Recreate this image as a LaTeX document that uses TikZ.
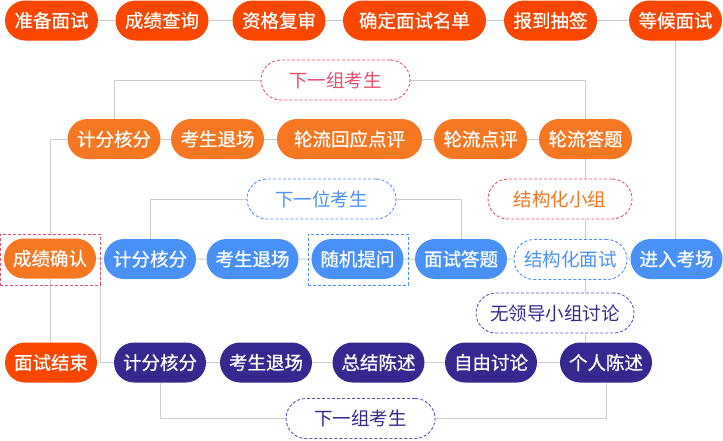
\documentclass[tikz,border=0pt]{standalone}
\usepackage{fontspec}
\setmainfont{Noto Sans CJK SC}
\newfontfamily\cuti[FakeBold=0.7]{Noto Sans CJK SC}
\usetikzlibrary{backgrounds,calc}
\definecolor{hongse}{HTML}{F94600}
\definecolor{chengse}{HTML}{F57722}
\definecolor{lanse}{HTML}{4A91F7}
\definecolor{zise}{HTML}{35288F}
\definecolor{xianse}{HTML}{CCCCCC}
\definecolor{xuhong}{HTML}{E8506A}
\definecolor{xuzi}{HTML}{5A4FB5}

\begin{document}
\begin{tikzpicture}[x=1pt,y=-1pt,
  every node/.style={font=\fontsize{18.5pt}{22pt}\selectfont},
  jiedian/.style={rounded corners=20pt,minimum height=40pt,minimum width=93pt,inner sep=0pt,text=white,font=\cuti\fontsize{18.5pt}{22pt}\selectfont},
  hongjie/.style={jiedian,fill=hongse},
  chengjie/.style={jiedian,fill=chengse},
  lanjie/.style={jiedian,fill=lanse},
  zijie/.style={jiedian,fill=zise},
  xukuang/.style={draw,dash pattern=on 3pt off 2pt,line width=0.9pt,fill=white,rounded corners=20pt,minimum height=40pt,inner sep=0pt},
  lianxian/.style={draw=xianse,line width=1pt}]
  \useasboundingbox (0,0) rectangle (723,440);
  % 第一行：面试准备
  \node[hongjie] (prep) at (51.5,20.5) {准备面试};
  \node[hongjie] (query) at (162,20.5) {成绩查询};
  \node[hongjie] (review) at (279,20.5) {资格复审};
  \node[hongjie,minimum width=143pt] (namelist) at (414.5,20.5) {确定面试名单};
  \node[hongjie] (lottery) at (550.5,20.5) {报到抽签};
  \node[hongjie] (wait) at (675.5,20.5) {等候面试};
  % 第二行：结构化小组
  \node[xukuang,draw=xuhong,text=xuhong,minimum width=149pt] (gNext) at (335.5,80) {下一组考生};
  \node[chengjie] (gScore) at (114,139) {计分核分};
  \node[chengjie] (gLeave) at (217.5,139) {考生退场};
  \node[chengjie,minimum width=145pt] (gReply) at (349.5,139) {轮流回应点评};
  \node[chengjie] (gComment) at (480.5,139) {轮流点评};
  \node[chengjie] (gAnswer) at (585.5,139) {轮流答题};
  \node[xukuang,draw=xuhong,text=chengse,minimum width=144pt] (group) at (560,199) {结构化小组};
  % 第三行：结构化面试
  \node[xukuang,draw=lanse,text=lanse,minimum width=149pt] (sNext) at (321.5,199) {下一位考生};
  \node[chengjie,minimum width=92pt] (confirm) at (50,258.5) {成绩确认};
  \node[draw=xuhong,dash pattern=on 3pt off 2pt,line width=0.9pt,minimum width=100pt,minimum height=51pt] (confirmBox) at (50,259.5) {};
  \node[lanjie,minimum width=92pt] (sScore) at (150,259) {计分核分};
  \node[lanjie,minimum width=92pt] (sLeave) at (252.5,259) {考生退场};
  \node[lanjie,minimum width=92pt] (sAsk) at (357.5,259) {随机提问};
  \node[draw=lanse,dash pattern=on 3pt off 2pt,line width=0.9pt,minimum width=100pt,minimum height=51pt] (askBox) at (358,259.5) {};
  \node[lanjie,minimum width=92pt] (sAnswer) at (461,259) {面试答题};
  \node[xukuang,draw=lanse,text=lanse,minimum width=113pt] (structured) at (570.5,259.5) {结构化面试};
  \node[lanjie,minimum width=92pt] (enter) at (676.5,259) {进入考场};
  % 第四行：无领导小组讨论
  \node[xukuang,draw=xuzi,text=zise,minimum width=158pt] (leaderless) at (555,313) {无领导小组讨论};
  \node[hongjie,minimum width=92pt] (finish) at (51,362.5) {面试结束};
  \node[zijie,minimum width=92pt] (lScore) at (160,362.5) {计分核分};
  \node[zijie,minimum width=92pt] (lLeave) at (266,362.5) {考生退场};
  \node[zijie,minimum width=92pt] (lSum) at (378.5,362.5) {总结陈述};
  \node[zijie,minimum width=92pt] (lFree) at (491,362.5) {自由讨论};
  \node[zijie,minimum width=92pt] (lSelf) at (606,362.5) {个人陈述};
  \node[xukuang,draw=xuzi,text=zise,minimum width=149pt] (lNext) at (360.5,418.5) {下一组考生};
  % 连线（放在背景层）
  \begin{scope}[on background layer]
    \draw[lianxian] (prep) -- (query) -- (review) -- (namelist) -- (lottery) -- (wait); % 第一行
    \draw[lianxian] (wait.south) -- (wait.south |- enter.north); % 等候面试→进入考场
    \draw[lianxian] (gScore) -- (gLeave) -- (gReply) -- (gComment) -- (gAnswer); % 第二行
    \draw[lianxian] (gNext.west) -| (gScore.north);
    \draw[lianxian] (gNext.east) -| (gAnswer.north);
    \draw[lianxian] (gScore.west) -| (confirmBox.north); % 回到成绩确认
    \draw[lianxian] (gAnswer.south) -- (gAnswer.south |- structured.north); % 穿过结构化小组
    \draw[lianxian] (confirm) -- (sScore) -- (sLeave) -- (sAsk) -- (sAnswer) -- (structured) -- (enter); % 第三行
    \draw[lianxian] (sNext.west) -| (sScore.north);
    \draw[lianxian] (sNext.east) -| (sAnswer.north);
    \coordinate (fork) at ($(confirm.east)!0.5!(sScore.west)$);
    \draw[lianxian] (fork) |- (lScore.west); % 分支到第四行
    \draw[lianxian] (confirm.south) -- (confirm.south |- finish.north);
    \draw[lianxian] (gAnswer.south |- structured.south) -- (gAnswer.south |- lSelf.north); % 穿过无领导小组讨论
    \draw[lianxian] (lScore) -- (lLeave) -- (lSum) -- (lFree) -- (lSelf); % 第四行
    \draw[lianxian] (lNext.west) -| (lScore.south);
    \draw[lianxian] (lNext.east) -| (lSelf.south);
  \end{scope}
\end{tikzpicture}
\end{document}
